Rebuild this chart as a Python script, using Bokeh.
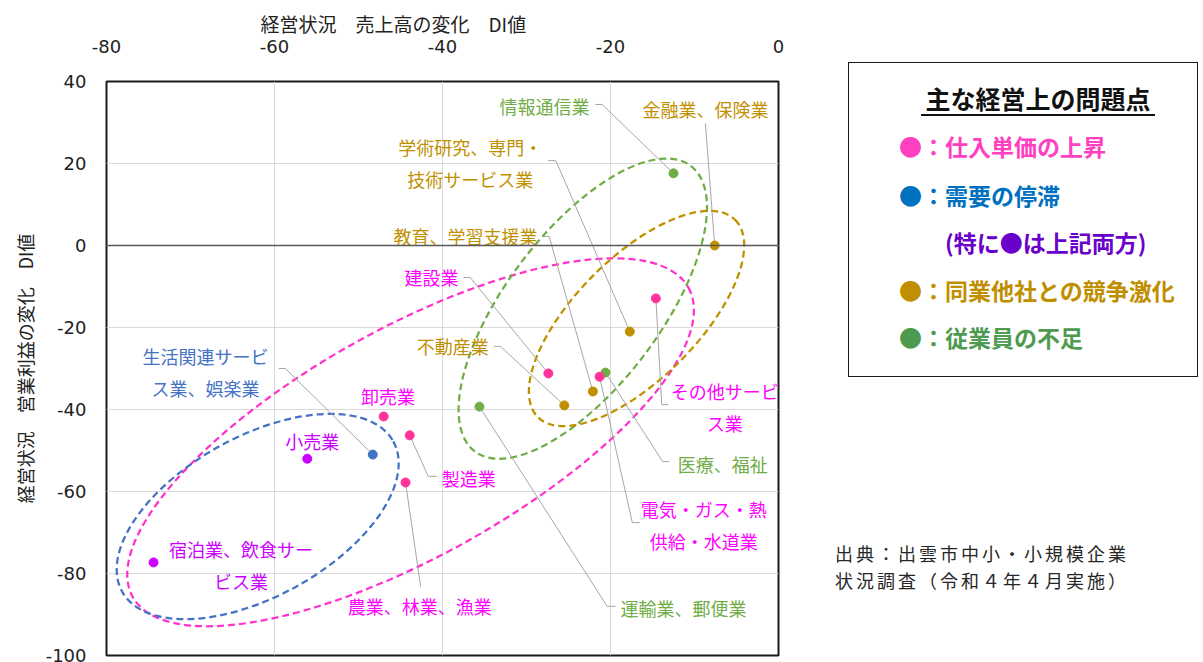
import math
from bokeh.plotting import figure
from bokeh.models import Range1d, FixedTicker, Span, ColumnDataSource, Div
from bokeh.layouts import row
from bokeh.embed import file_html
from bokeh.resources import INLINE
from bokeh.core.properties import value

# ---------------- data ----------------
industries = ["情報通信業", "金融業、保険業", "学術研究、専門・\n技術サービス業", "教育、学習支援業",
              "建設業", "不動産業", "生活関連サービ\nス業、娯楽業", "卸売業", "小売業", "製造業",
              "農業、林業、漁業", "宿泊業、飲食サー\nビス業", "その他サービ\nス業", "医療、福祉",
              "電気・ガス・熱\n供給・水道業", "運輸業、郵便業"]
sales_di = [-12.5, -7.6, -17.7, -22.1, -27.4, -25.5, -48.3, -47.0, -56.1, -43.9,
            -44.4, -74.4, -14.6, -20.6, -21.3, -35.6]
profit_di = [17.6, 0.0, -21.0, -35.6, -31.2, -39.0, -51.0, -41.7, -52.0, -46.3,
             -57.8, -77.3, -12.9, -31.0, -32.0, -39.3]
issue = ["staff", "competition", "competition", "competition", "price", "competition", "demand",
         "price", "both", "price", "price", "both", "price", "staff", "price", "staff"]

x_ticks = [-80, -60, -40, -20, 0]
y_ticks = [40, 20, 0, -20, -40, -60, -80, -100]

x_title = "経営状況　売上高の変化　DI値"
y_title = "経営状況　営業利益の変化　DI値"
legend_title = "主な経営上の問題点"
legend_items = ["●：仕入単価の上昇", "●：需要の停滞", "(特に●は上記両方)",
                "●：同業他社との競争激化", "●：従業員の不足"]
source_lines = ["出典：出雲市中小・小規模企業", "状況調査（令和４年４月実施）"]

# ---------------- styles / layout ----------------
JP = "Noto Sans CJK JP"
point_color = {"price": "#FF3399", "both": "#CC00FF", "demand": "#4472C4",
               "competition": "#BF9000", "staff": "#70AD47"}
text_color = {"price": "#FF00FF", "both": "#CC00FF", "demand": "#4472C4",
              "competition": "#BF9000", "staff": "#70AD47"}
legend_colors = ["#FF40C0", "#0070C0", "#6A00CC", "#BF8F00", "#4E9A50"]

# label anchor (data units), alignment
label_pos = [(-22.5, 34.1, "right"), (-8.7, 33.4, "center"), (-36.7, 20.2, "center"),
             (-28.7, 2.2, "right"), (-38.1, -7.8, "right"), (-34.5, -24.6, "right"),
             (-68.2, -30.85, "center"), (-46.5, -36.6, "center"), (-55.5, -47.6, "center"),
             (-40.1, -56.6, "left"), (-42.7, -88.0, "center"), (-64.0, -77.9, "center"),
             (-6.4, -39.3, "center"), (-12.0, -53.2, "left"), (-8.9, -68.05, "center"),
             (-18.8, -88.3, "left")]
# leader line vertices from label side toward the point (data units)
leaders = [[(-21.8, 34.4), (-21.0, 34.4)], [(-8.7, 29.8)], [(-27.4, 20.7), (-26.5, 20.7)],
           [(-28.1, 2.2), (-27.3, 2.2)], [(-37.5, -7.8), (-36.7, -7.8)],
           [(-33.9, -24.6), (-33.1, -24.6)], [(-59.5, -30.0), (-58.7, -30.0)], None, None,
           [(-40.7, -56.3), (-41.7, -56.3)], [(-42.6, -83.2)], None,
           [(-13.1, -38.8), (-13.9, -38.8)], [(-13.0, -52.7), (-13.8, -52.7)],
           [(-16.5, -67.6), (-17.4, -67.6)], [(-19.4, -88.0), (-20.4, -88.0)]]
# group ellipses: center x, center y (data), full width, full height (px), angle (deg), color
ellipses = [(-43.8, -48.0, 636, 228, 29.1, "#FF33CC"),
            (-62.0, -66.1, 310, 160, 29.0, "#4472C4"),
            (-23.3, -15.4, 358, 154, 52.9, "#70AD47"),
            (-16.9, -17.8, 279, 122, 45.0, "#BF9000")]

# ---------------- main chart ----------------
MAIN_W = 794
p = figure(width=MAIN_W, height=662, x_range=Range1d(-80, 0), y_range=Range1d(-100, 40),
           x_axis_location="above", output_backend="svg", toolbar_location=None,
           min_border_left=106, min_border_right=MAIN_W - 106 - 672, min_border_top=81,
           min_border_bottom=7)
p.outline_line_color = "#1a1a1a"
p.outline_line_width = 2
p.background_fill_color = "white"

p.title.text = x_title
p.title.align = "left"
p.title.offset = 154
p.title.standoff = 0
p.title.text_font = JP
p.title.text_font_size = "19px"
p.title.text_font_style = "normal"
p.title.text_color = "#222222"

p.xaxis.ticker = FixedTicker(ticks=x_ticks)
p.yaxis.ticker = FixedTicker(ticks=y_ticks)
p.xaxis.major_label_overrides = {t: str(t) for t in x_ticks}
p.yaxis.major_label_overrides = {t: str(t) for t in y_ticks}
for ax in (p.xaxis, p.yaxis):
    ax.axis_line_color = None
    ax.major_tick_line_color = None
    ax.minor_tick_line_color = None
    ax.major_tick_out = 0
    ax.major_tick_in = 0
    ax.major_label_text_font = "DejaVu Sans"
    ax.major_label_text_font_size = "18px"
    ax.major_label_text_color = "#222222"
p.xaxis.major_label_standoff = 29
p.yaxis.major_label_standoff = 20
p.yaxis.axis_label = y_title
p.yaxis.axis_label_text_font = JP
p.yaxis.axis_label_text_font_size = "18px"
p.yaxis.axis_label_text_font_style = "normal"
p.yaxis.axis_label_text_color = "#222222"
p.yaxis.axis_label_standoff = 5

p.xgrid.grid_line_color = "#D9D9D9"
p.ygrid.grid_line_color = "#D9D9D9"

p.add_layout(Span(location=0, dimension="width", line_color="#595959", line_width=1.5))

for cx, cy, w, h, ang, col in ellipses:
    p.ellipse(x=[cx], y=[cy], width=[w], height=[h], angle=[math.radians(ang)],
              width_units="screen", height_units="screen", fill_color=None,
              line_color=col, line_width=2.25, line_dash="7 4")

# leader lines
lx, ly = [], []
for i, ld in enumerate(leaders):
    if ld is None:
        continue
    lx.append([pt[0] for pt in ld] + [sales_di[i]])
    ly.append([pt[1] for pt in ld] + [profit_di[i]])
p.multi_line(xs=lx, ys=ly, line_color="#A6A6A6", line_width=1)

# points
src = ColumnDataSource(dict(x=sales_di, y=profit_di, c=[point_color[k] for k in issue]))
p.scatter(x="x", y="y", source=src, size=9, fill_color="c", line_color="c")

# labels
tx, ty, tt, tc, ta, toff = [], [], [], [], [], []
for i, name in enumerate(industries):
    lines = name.split("\n")
    n = len(lines)
    for j, ln in enumerate(lines):
        tx.append(label_pos[i][0])
        ty.append(label_pos[i][1])
        tt.append(ln)
        tc.append(text_color[issue[i]])
        ta.append(label_pos[i][2])
        toff.append((j - (n - 1) / 2) * 32)
tsrc = ColumnDataSource(dict(x=tx, y=ty, t=tt, c=tc, a=ta, o=toff))
p.text(x="x", y="y", text="t", source=tsrc, text_color="c", text_align="a",
       y_offset="o", text_baseline="middle", text_font=value(JP), text_font_size="18px")

# ---------------- side panel (legend box + source), page coordinates ----------------
SIDE_W = 1202 - MAIN_W
OX = MAIN_W + 5   # page x of the panel's content origin
OY = 5            # page y of the panel's content origin
font_css = "font-family:'Noto Sans CJK JP',sans-serif;white-space:nowrap;position:absolute;"
parts = []
parts.append('<div style="position:absolute;left:%dpx;top:%dpx;width:350px;height:315px;'
             'box-sizing:border-box;border:1.5px solid #1a1a1a;background:white;"></div>'
             % (848 - OX, 62 - OY))
parts.append('<div style="%sleft:%dpx;top:%dpx;width:234px;text-align:center;font-size:25px;'
             'line-height:30px;font-weight:bold;color:#111;">%s</div>'
             % (font_css, 921 - OX, 100 - 15 - 2 - OY, legend_title))
parts.append('<div style="position:absolute;left:%dpx;top:%dpx;width:234px;height:2px;'
             'background:#111;"></div>' % (921 - OX, 114 - OY))
item_y = [147, 196, 243, 291, 338]
item_x = [899, 899, 945, 899, 899]
for txt, col, yy, xx in zip(legend_items, legend_colors, item_y, item_x):
    parts.append('<div style="%sleft:%dpx;top:%dpx;font-size:23px;line-height:30px;'
                 'font-weight:bold;color:%s;">%s</div>'
                 % (font_css, xx - OX, yy - 15 - 1 - OY, col, txt))
for txt, yy in zip(source_lines, [553, 580]):
    parts.append('<div style="%sleft:%dpx;top:%dpx;font-size:18px;line-height:24px;'
                 'letter-spacing:3px;color:#262626;">%s</div>'
                 % (font_css, 835 - OX, yy - 12 - OY, txt))
html = ('<div style="position:relative;width:%dpx;height:650px;">%s</div>'
        % (SIDE_W - 10, "".join(parts)))
side = Div(text=html, width=SIDE_W, height=662)

layout = row(p, side)
open("out.html", "w").write(file_html(layout, INLINE))
